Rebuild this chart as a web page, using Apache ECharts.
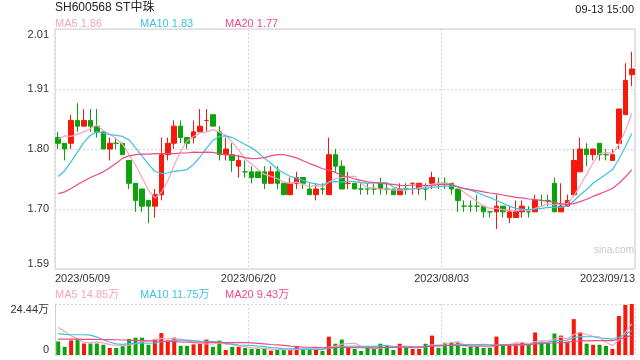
<!DOCTYPE html>
<html><head><meta charset="utf-8">
<script src="https://cdn.jsdelivr.net/npm/echarts/dist/echarts.min.js"></script>
<style>html,body{margin:0;padding:0;background:#fff}#c{width:640px;height:360px}</style>
</head><body><div id="c"></div>
<script>
const opens = [1.82,1.81,1.81,1.85,1.84,1.85,1.84,1.83,1.80,1.81,
1.81,1.78,1.74,1.73,1.71,1.70,1.72,1.79,1.81,1.84,
1.82,1.82,1.83,1.85,1.86,1.83,1.79,1.79,1.77,1.76,
1.76,1.76,1.76,1.74,1.76,1.74,1.72,1.74,1.75,1.73,
1.72,1.73,1.72,1.79,1.77,1.74,1.74,1.73,1.73,1.73,
1.74,1.73,1.73,1.72,1.73,1.74,1.73,1.73,1.74,1.74,
1.74,1.74,1.73,1.70,1.70,1.70,1.70,1.69,1.69,1.70,
1.68,1.68,1.69,1.69,1.69,1.71,1.71,1.74,1.69,1.70,
1.72,1.76,1.80,1.79,1.81,1.79,1.78,1.81,1.86,1.93];
const closes = [1.81,1.80,1.85,1.84,1.85,1.84,1.83,1.80,1.81,1.81,
1.79,1.74,1.71,1.70,1.70,1.72,1.79,1.81,1.84,1.82,
1.81,1.83,1.84,1.85,1.84,1.79,1.80,1.78,1.78,1.76,
1.75,1.75,1.74,1.76,1.74,1.72,1.74,1.75,1.74,1.72,
1.73,1.73,1.79,1.77,1.73,1.74,1.73,1.73,1.73,1.73,
1.73,1.73,1.72,1.73,1.73,1.74,1.74,1.73,1.75,1.74,
1.74,1.73,1.71,1.70,1.70,1.70,1.69,1.69,1.70,1.69,
1.69,1.69,1.70,1.69,1.71,1.71,1.71,1.69,1.70,1.71,
1.78,1.80,1.79,1.80,1.79,1.79,1.79,1.87,1.92,1.94];
const highs = [1.83,1.81,1.86,1.88,1.87,1.87,1.87,1.83,1.82,1.82,
1.81,1.78,1.74,1.73,1.71,1.73,1.82,1.82,1.85,1.85,
1.82,1.85,1.87,1.87,1.86,1.84,1.82,1.81,1.79,1.78,
1.77,1.76,1.77,1.77,1.77,1.74,1.75,1.76,1.75,1.74,
1.74,1.74,1.82,1.80,1.78,1.76,1.74,1.74,1.74,1.74,
1.75,1.74,1.73,1.74,1.74,1.74,1.74,1.74,1.76,1.75,
1.75,1.74,1.73,1.71,1.71,1.72,1.70,1.69,1.72,1.70,
1.70,1.71,1.71,1.70,1.72,1.72,1.72,1.75,1.74,1.72,
1.80,1.82,1.81,1.80,1.81,1.80,1.80,1.87,1.95,1.97];
const lows = [1.80,1.78,1.80,1.83,1.84,1.83,1.82,1.80,1.78,1.80,
1.79,1.73,1.69,1.69,1.67,1.68,1.71,1.78,1.80,1.81,
1.80,1.81,1.83,1.83,1.84,1.78,1.78,1.76,1.75,1.75,
1.74,1.75,1.73,1.74,1.73,1.72,1.72,1.73,1.73,1.72,
1.71,1.72,1.72,1.76,1.73,1.73,1.73,1.72,1.72,1.72,
1.72,1.72,1.72,1.72,1.72,1.72,1.72,1.71,1.73,1.73,
1.73,1.72,1.69,1.69,1.69,1.69,1.68,1.68,1.66,1.68,
1.67,1.68,1.68,1.68,1.69,1.70,1.70,1.69,1.69,1.70,
1.72,1.76,1.77,1.78,1.78,1.78,1.78,1.80,1.86,1.91];
// volume in 万
const volumes = [6.5,3.9,7.0,7.5,5.5,5.5,5.5,4.9,3.4,3.4,
4.4,7.7,8.3,8.3,4.9,7.7,10.5,7.0,8.3,4.4,
4.4,5.1,5.5,7.4,3.9,6.9,2.4,3.9,3.9,3.4,
2.9,2.9,2.9,2.1,2.4,2.4,2.4,3.9,2.9,2.9,
2.4,1.9,8.8,5.4,7.4,3.9,2.9,1.9,3.4,2.9,
5.4,4.4,2.4,5.4,3.9,2.9,2.9,5.4,9.3,3.4,
5.9,5.9,6.4,3.4,3.9,3.9,3.4,3.4,8.8,4.9,
4.9,5.9,5.9,4.9,10.8,6.4,5.9,10.3,9.3,6.4,
17.2,10.8,5.4,4.9,4.9,4.4,2.9,18.7,24.0,24.44];
// moving-average values before enough history is on screen
const ma5Head = [1.817,1.823,1.822,1.826];
const ma10Head = [1.752,1.762,1.778,1.795,1.812,1.824,1.830,1.828,1.825];
const ma20Head = [1.722,1.725,1.731,1.738,1.744,1.750,1.755,1.760,1.767,1.775,1.784,1.788,1.790,1.791,1.791,1.792,1.792,1.792,1.792];
const vma5Head = [13.3,11.3,9.2,7.6];
const vma10Head = [10.2,9.9,9.7,9.7,9.7,9.5,8.6,7.3,6.1];
const vma20Head = [7.6,7.6,7.6,7.6,7.5,7.5,7.5,7.4,7.4,7.3,7.2,7.1,7.0,6.9,6.8,6.7,6.6,6.5,6.4];

const dateTicks = ['2023/05/09','2023/06/20','2023/08/03','2023/09/13'];
const priceTicks = ['1.59','1.70','1.80','1.91','2.01'];
const volTicks = ['0','24.44万'];
const titleText = 'SH600568 ST中珠';
const timeText = '09-13 15:00';
const maLegend = ['MA5 1.86','MA10 1.83','MA20 1.77'];
const volLegend = ['MA5 14.85万','MA10 11.75万','MA20 9.43万'];

const UP = '#f5180b', DOWN = '#0ca20c';
const C5 = '#f7a3bf', C10 = '#3cc3e2', C20 = '#ee4b83';

function ma(arr, n, head) {
  return arr.map((v, i) => {
    if (i < n - 1) return head[i];
    let s = 0; for (let k = i - n + 1; k <= i; k++) s += arr[k];
    return +(s / n).toFixed(4);
  });
}
const cats = closes.map((_, i) => i);
const dirColor = closes.map((c, i) => {
  const o = opens[i];
  if (c > o) return UP;
  if (c < o) return DOWN;
  return (i > 0 && c > closes[i - 1]) ? UP : DOWN;
});
const kData = closes.map((c, i) => ({
  value: [opens[i], c, lows[i], highs[i]],
  itemStyle: {color: dirColor[i], color0: dirColor[i], borderColor: dirColor[i], borderColor0: dirColor[i]}
}));
const vData = volumes.map((v, i) => ({value: v, itemStyle: {color: dirColor[i]}}));

const font = '"Liberation Sans", Arial, "Noto Sans CJK SC", sans-serif';
const splitStyle = {color: '#d6d6d6', type: [2, 2], width: 1};
const lbl = {fontSize: 11, color: '#333', fontFamily: font};

function txt(text, left, top, color, size) {
  return {text: text, left: left, top: top, padding: 0,
    textStyle: {fontSize: size || 11, fontWeight: 'normal', color: color, fontFamily: font}};
}

const chart = echarts.init(document.getElementById('c'), null, {renderer: 'canvas'});
chart.setOption({
  animation: false,
  backgroundColor: '#fff',
  title: [
    txt(titleText, 55, 2, '#222', 12),
    Object.assign(txt(timeText, null, 4, '#222', 11), {left: undefined, right: 6}),
    txt(maLegend[0], 55, 18, C5), txt(maLegend[1], 140, 18, C10), txt(maLegend[2], 225, 18, C20),
    txt(volLegend[0], 55, 289, C5), txt(volLegend[1], 140, 289, C10), txt(volLegend[2], 225, 289, C20)
  ],
  graphic: [{type: 'text', right: 6, top: 245, style: {text: 'sina.com', fill: '#c8c8c8', font: '10px ' + font}}],
  grid: [
    {left: 55, right: 5, top: 29, height: 240, show: true, borderColor: '#cfcfcf', borderWidth: 1},
    {left: 55, right: 5, top: 304, height: 51}
  ],
  xAxis: [
    {type: 'category', gridIndex: 0, data: cats, boundaryGap: true, axisLine: {show: false}, axisTick: {show: false}, axisLabel: {show: false}, splitLine: {show: false}},
    {type: 'value', gridIndex: 0, min: 0, max: 3, interval: 1, position: 'bottom',
      axisLine: {show: false}, axisTick: {show: false},
      axisLabel: Object.assign({formatter: v => dateTicks[Math.round(v)], margin: 4, alignMinLabel: 'left', alignMaxLabel: 'right'}, lbl),
      splitLine: {show: true, lineStyle: splitStyle}},
    {type: 'category', gridIndex: 1, data: cats, boundaryGap: true, axisLine: {show: false}, axisTick: {show: false}, axisLabel: {show: false}, splitLine: {show: false}},
    {type: 'value', gridIndex: 1, min: 0, max: 3, interval: 1, axisLine: {show: false}, axisTick: {show: false}, axisLabel: {show: false},
      splitLine: {show: true, lineStyle: splitStyle}}
  ],
  yAxis: [
    {type: 'value', gridIndex: 0, min: 1.59, max: 2.01, axisLine: {show: false}, axisTick: {show: false}, axisLabel: {show: false}, splitLine: {show: false}},
    {type: 'value', gridIndex: 0, min: 0, max: 4, interval: 1, position: 'left',
      axisLine: {show: false}, axisTick: {show: false},
      axisLabel: Object.assign({formatter: v => priceTicks[Math.round(v)], margin: 6, verticalAlignMinLabel: 'bottom', verticalAlignMaxLabel: 'top'}, lbl),
      splitLine: {show: true, lineStyle: splitStyle}},
    {type: 'value', gridIndex: 1, min: 0, max: 24.44, interval: 24.44,
      axisLine: {show: true, lineStyle: {color: '#cfcfcf'}}, axisTick: {show: false},
      axisLabel: Object.assign({formatter: v => (v > 0 ? volTicks[1] : volTicks[0]), margin: 6, verticalAlignMinLabel: 'bottom', verticalAlignMaxLabel: 'top'}, lbl),
      splitLine: {show: true, lineStyle: splitStyle}}
  ],
  series: [
    {type: 'candlestick', xAxisIndex: 0, yAxisIndex: 0, data: kData, barWidth: 5, itemStyle: {borderWidth: 1}},
    {type: 'line', xAxisIndex: 0, yAxisIndex: 0, data: ma(closes, 5, ma5Head), symbol: 'none', lineStyle: {color: C5, width: 1.2}},
    {type: 'line', xAxisIndex: 0, yAxisIndex: 0, data: ma(closes, 10, ma10Head), symbol: 'none', lineStyle: {color: C10, width: 1.2}},
    {type: 'line', xAxisIndex: 0, yAxisIndex: 0, data: ma(closes, 20, ma20Head), symbol: 'none', lineStyle: {color: C20, width: 1.2}},
    {type: 'bar', xAxisIndex: 2, yAxisIndex: 2, data: vData, barWidth: 4},
    {type: 'line', xAxisIndex: 2, yAxisIndex: 2, data: ma(volumes, 5, vma5Head), symbol: 'none', lineStyle: {color: C5, width: 1.2}},
    {type: 'line', xAxisIndex: 2, yAxisIndex: 2, data: ma(volumes, 10, vma10Head), symbol: 'none', lineStyle: {color: C10, width: 1.2}},
    {type: 'line', xAxisIndex: 2, yAxisIndex: 2, data: ma(volumes, 20, vma20Head), symbol: 'none', lineStyle: {color: C20, width: 1.2}}
  ]
});
</script></body></html>
